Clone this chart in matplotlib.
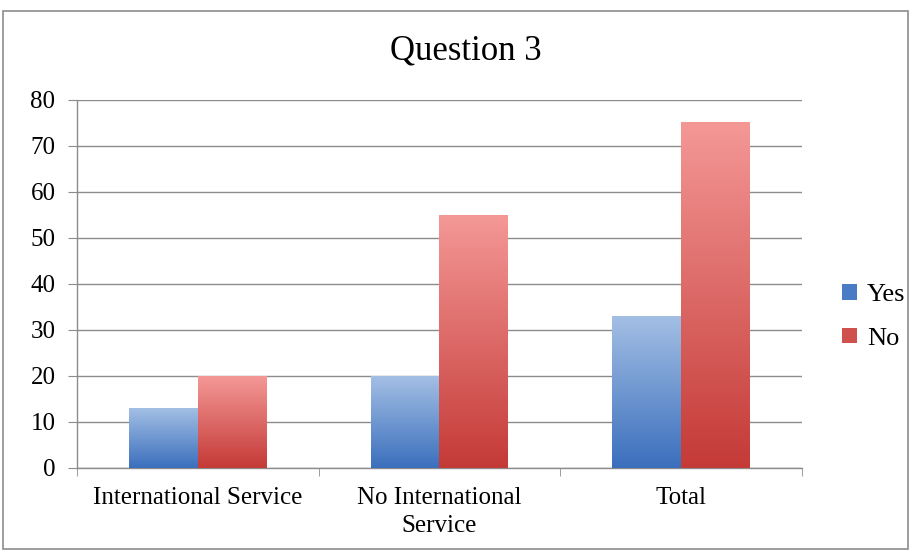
import matplotlib
matplotlib.use("Agg")
import matplotlib.pyplot as plt
import numpy as np
from matplotlib.colors import LinearSegmentedColormap
from matplotlib.patches import Rectangle, Patch

categories = ["International Service", "No International\nService", "Total"]
series_names = ["Yes", "No"]
yes_values = [13, 20, 33]
no_values = [20, 55, 75]
y_ticks = [0, 10, 20, 30, 40, 50, 60, 70, 80]

plt.rcParams['font.family'] = ['Liberation Serif', 'DejaVu Serif']

fig = plt.figure(figsize=(9.12, 5.52), dpi=100)
ax = fig.add_axes([77/912, 1-468/552, (802-77)/912, (468-100)/552])

cmaps = [
    LinearSegmentedColormap.from_list("blue", ["#3b6fbd", "#a3bfe4"]),
    LinearSegmentedColormap.from_list("red", ["#c43a37", "#f49896"]),
]
legend_colors = ["#4a7cc6", "#d0504d"]

width = 0.285
x = np.arange(len(categories))
grad = np.linspace(0, 1, 256).reshape(-1, 1)
for i, vals in enumerate([yes_values, no_values]):
    offs = (i - 0.5) * width
    bars = ax.bar(x + offs, vals, width, color="none", edgecolor="none", zorder=3)
    for b in bars:
        x0 = b.get_x()
        h = b.get_height()
        ax.imshow(grad, extent=[x0, x0 + width, 0, h], origin="lower",
                  aspect="auto", cmap=cmaps[i], zorder=3, interpolation="bicubic")

ax.set_xlim(-0.5, len(categories) - 0.5)
ax.set_ylim(0, 80)
ax.set_yticks(y_ticks)
ax.set_yticklabels([str(t) for t in y_ticks], fontsize=18)
ax.yaxis.grid(True, color="#8c8c8c", linewidth=1.0, zorder=0)
ax.set_axisbelow(True)

ax.set_xticks(x)
ax.set_xticklabels(categories, fontsize=18, linespacing=1.35)
ax.tick_params(axis="x", length=0, pad=14)
ax.set_xticks(np.arange(len(categories) + 1) - 0.5, minor=True)
ax.tick_params(axis="x", which="minor", length=6, color="#8c8c8c", direction="out")
ax.tick_params(axis="y", length=6.5, color="#8c8c8c", direction="out", pad=9)

for s in ["top", "right"]:
    ax.spines[s].set_visible(False)
for s in ["left", "bottom"]:
    ax.spines[s].set_color("#8c8c8c")
    ax.spines[s].set_linewidth(1.0)

fig.text(466/912, 1-51/552, "Question 3", ha="center", va="center", fontsize=25)

handles = [Patch(facecolor=c, edgecolor="none") for c in legend_colors]
fig.legend(handles, series_names, loc="center left", bbox_to_anchor=(842/912, 1-317/552),
           frameon=False, fontsize=19, handlelength=0.55, handleheight=0.55,
           handletextpad=0.4, labelspacing=0.8, borderaxespad=0, borderpad=0)

fig.patches.append(Rectangle((3/912, 3/552), 905/912, 538/552, transform=fig.transFigure,
                             fill=False, edgecolor="#8c8c8c", linewidth=1.2))

fig.savefig("out.png", dpi=100)
